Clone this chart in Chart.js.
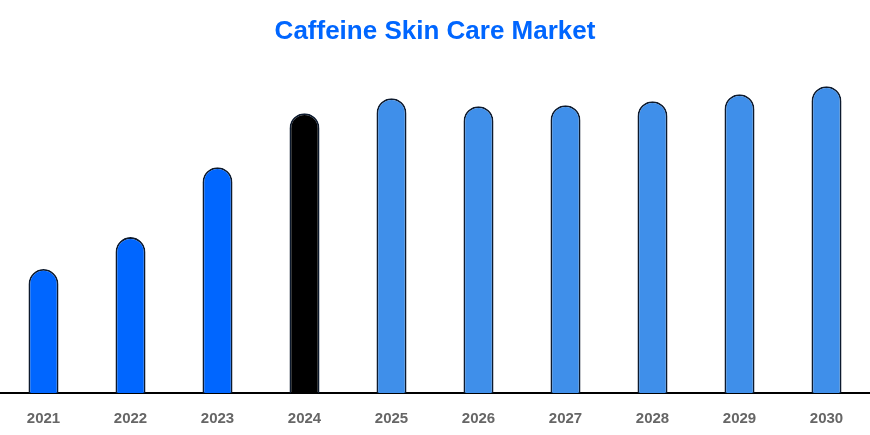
<!DOCTYPE html>
<html>
<head>
<meta charset="utf-8">
<script src="https://cdn.jsdelivr.net/npm/chart.js@4/dist/chart.umd.min.js"></script>
<style>
  html, body { margin: 0; padding: 0; background: #fff; }
  #wrap { width: 870px; height: 435px; }
</style>
</head>
<body>
<div id="wrap"><canvas id="marketChart"></canvas></div>
<script>
// Market size by year (arbitrary units)
const years = ['2021', '2022', '2023', '2024', '2025', '2026', '2027', '2028', '2029', '2030'];
const marketValues = [1.24, 1.56, 2.26, 2.80, 2.95, 2.87, 2.88, 2.92, 2.99, 3.07];
const barColors = ['#0066FF', '#0066FF', '#0066FF', '#000000', '#3F8FEA', '#3F8FEA', '#3F8FEA', '#3F8FEA', '#3F8FEA', '#3F8FEA'];

const ctx = document.getElementById('marketChart');

new Chart(ctx, {
  type: 'bar',
  data: {
    labels: years,
    datasets: [
      {
        label: 'Caffeine Skin Care Market',
        data: marketValues,
        backgroundColor: barColors,
        borderColor: '#0d1a2e',
        borderWidth: 1.8,
        borderSkipped: 'bottom',
        borderRadius: { topLeft: 15, topRight: 15, bottomLeft: 0, bottomRight: 0 },
        categoryPercentage: 1,
        barPercentage: 0.345,
      },
    ],
  },
  options: {
    responsive: true,
    maintainAspectRatio: false,
    animation: false,
    layout: {
      padding: { top: 0, bottom: -2, left: 0, right: 0 },
    },
    plugins: {
      legend: { display: false },
      tooltip: { enabled: false },
      title: {
        display: true,
        text: 'Caffeine Skin Care Market',
        color: '#0066FF',
        font: { family: 'Liberation Sans', size: 26, weight: 'bold' },
        padding: { top: 16, bottom: 8 },
      },
    },
    scales: {
      x: {
        grid: { display: false },
        border: { display: true, color: '#000000', width: 2 },
        ticks: {
          color: '#666666',
          padding: 9,
          font: { family: 'Liberation Sans', size: 15, weight: 'bold' },
        },
      },
      y: {
        display: false,
        min: 0,
        max: 3.38,
      },
    },
  },
});
</script>
</body>
</html>
